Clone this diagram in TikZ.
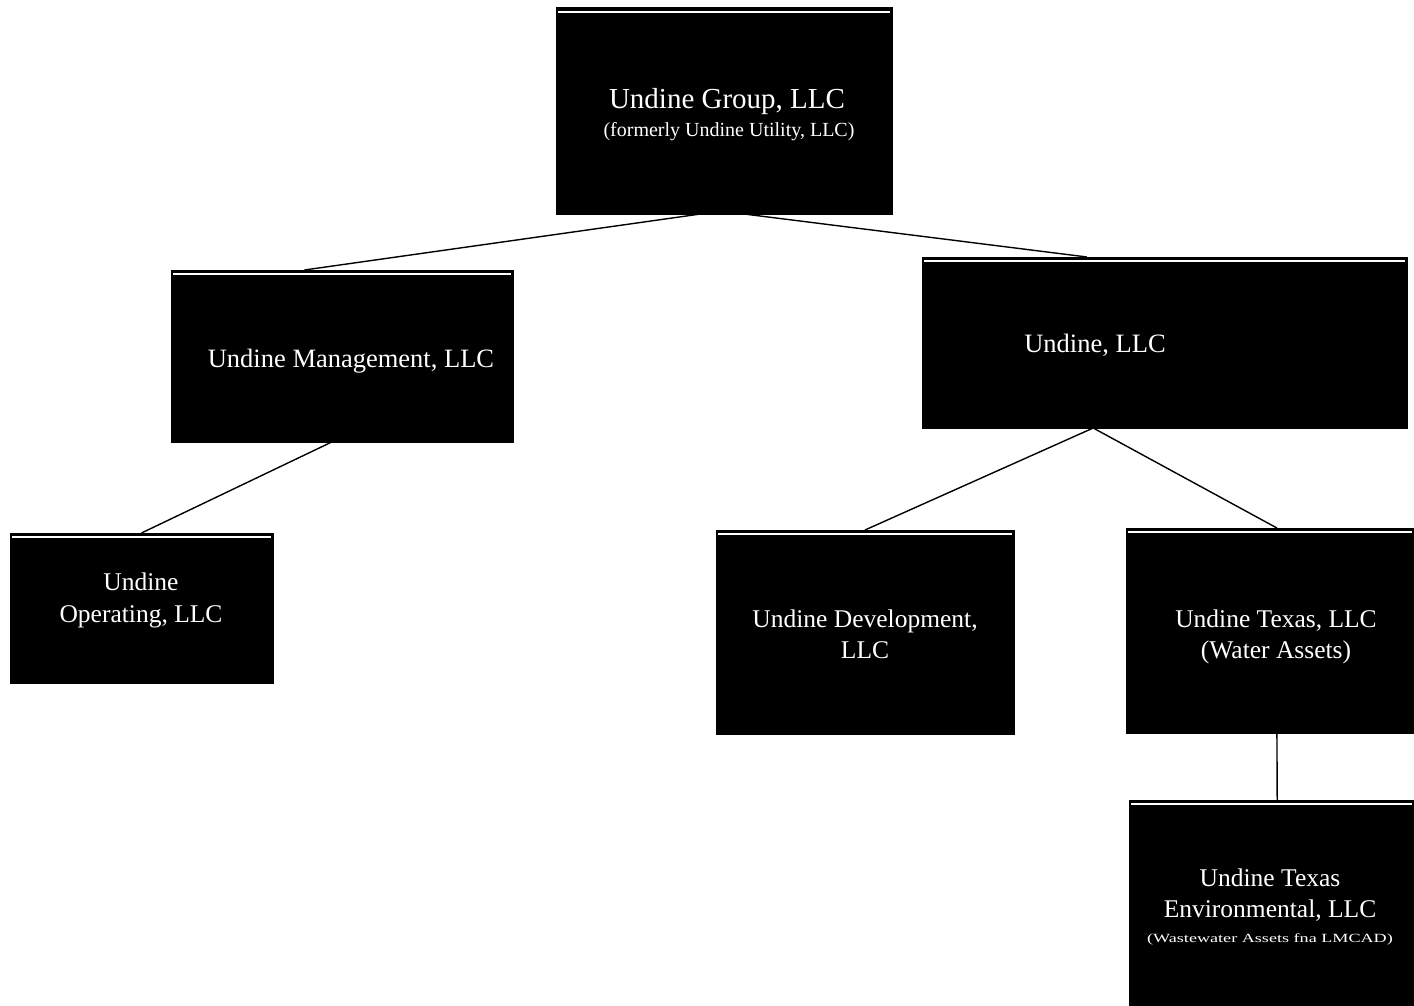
\documentclass[tikz,border=0pt]{standalone}
\usepackage{fontspec}
\setmainfont{Liberation Serif}
\usetikzlibrary{calc}
\tikzset{
  box/.style={fill=black, draw=black, line width=1pt, inner sep=0pt, outer sep=0pt},
  hl/.style={draw=white, line width=1.3pt},
  conn/.style={draw=black, line width=1.4pt},
  txt/.style={text=white, inner sep=0pt, anchor=base},
  big/.style={font=\fontsize{25.5}{31}\selectfont},
}
\begin{document}
\begin{tikzpicture}[x=1pt,y=-1pt]
\useasboundingbox (0,0) rectangle (1414,1006);
% boxes
\node[box, minimum width=336, minimum height=206] (top)  at (724,111) {};
\node[box, minimum width=342, minimum height=172] (mgmt) at (342,356) {};
\node[box, minimum width=485, minimum height=171] (ullc) at (1164.5,342.5) {};
\node[box, minimum width=263, minimum height=150] (oper) at (141.5,608) {};
\node[box, minimum width=298, minimum height=204] (dev)  at (865,632) {};
\node[box, minimum width=288, minimum height=205] (tex)  at (1270,630.5) {};
\node[box, minimum width=285, minimum height=206] (env)  at (1271.5,903) {};
% scan highlight lines near box tops
\foreach \b in {top,mgmt,ullc,oper,dev,tex,env}
  \draw[hl] ($(\b.north west)+(2,4)$) -- ($(\b.north east)+(-2,4)$);
% texts
\node[txt, font=\fontsize{29}{31}\selectfont] (topA) at (727,109) {Undine Group, LLC};
\node[txt, font=\fontsize{20}{24}\selectfont] (topB) at (729,137) {(formerly Undine Utility, LLC)};
\node[txt, font=\fontsize{26.5}{31}\selectfont] (mgmtA) at (351,367) {Undine Management, LLC};
\node[txt, font=\fontsize{26.5}{31}\selectfont] (ullcA) at (1095,352) {Undine, LLC};
\node[txt, big] (operA) at (141,590) {Undine};
\node[txt, big] (operB) at (141,622) {Operating, LLC};
\node[txt, big] (devA) at (865,627) {Undine Development,};
\node[txt, big] (devB) at (865,658) {LLC};
\node[txt, big] (texA) at (1276,627) {Undine Texas, LLC};
\node[txt, big] (texB) at (1276,658) {(Water Assets)};
\node[txt, big] (envA) at (1270,886) {Undine Texas};
\node[txt, big] (envB) at (1270,917) {Environmental, LLC};
\node[txt] (envC) at (1270,942) {\scalebox{1.45}[1]{\fontsize{12.5}{14}\selectfont (Wastewater Assets fna LMCAD)}};
% connectors
\draw[conn] ($(top.south west)!0.43!(top.south east)$) -- ($(mgmt.north west)!0.39!(mgmt.north east)$);
\draw[conn] ($(top.south west)!0.56!(top.south east)$) -- ($(ullc.north west)!0.34!(ullc.north east)$);
\draw[conn] ($(mgmt.south west)!0.47!(mgmt.south east)$) -- (oper.north);
\draw[conn] ($(ullc.south west)!0.353!(ullc.south east)$) -- (dev.north);
\draw[conn] ($(ullc.south west)!0.353!(ullc.south east)$) -- ($(tex.north west)!0.524!(tex.north east)$);
\draw[conn] ($(tex.south west)!0.524!(tex.south east)$) -- ($(env.north west)!0.52!(env.north east)$);
\end{tikzpicture}
\end{document}
